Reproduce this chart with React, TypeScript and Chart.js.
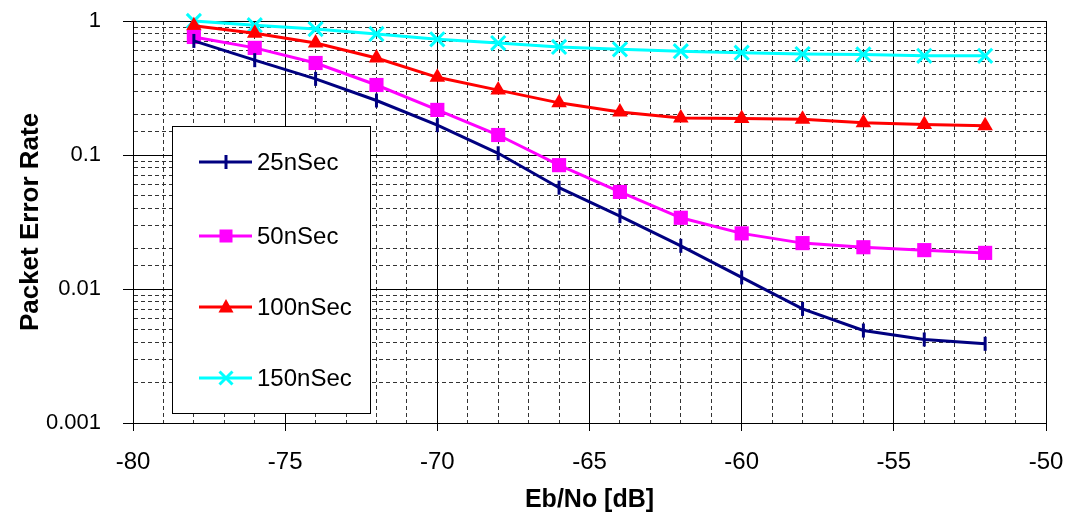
import React, { useEffect, useRef } from "react";
import { Chart, registerables } from "chart.js";

Chart.register(...registerables);

const ebNo = [-78, -76, -74, -72, -70, -68, -66, -64, -62, -60, -58, -56, -54, -52];
const per25 = [0.71, 0.51, 0.37, 0.255, 0.167, 0.103, 0.057, 0.035, 0.021, 0.0122, 0.0071, 0.0049, 0.0042, 0.0039];
const per50 = [0.76, 0.63, 0.486, 0.333, 0.217, 0.141, 0.084, 0.053, 0.034, 0.026, 0.022, 0.0205, 0.0195, 0.0186];
const per100 = [0.92, 0.81, 0.685, 0.53, 0.38, 0.305, 0.245, 0.209, 0.189, 0.187, 0.185, 0.174, 0.169, 0.165];
const per150 = [1.0, 0.93, 0.87, 0.8, 0.73, 0.685, 0.64, 0.615, 0.595, 0.58, 0.567, 0.563, 0.55, 0.55];
const seriesLabels = ["25nSec", "50nSec", "100nSec", "150nSec"];
const yTickLabels = ["0.001", "0.01", "0.1", "1"];
const xTickLabels = ["-80", "-75", "-70", "-65", "-60", "-55", "-50"];

const FONT = 'Arial, "Liberation Sans", sans-serif';

const toPts = (ys: number[]) => ebNo.map((x, i) => ({ x, y: ys[i] }));

const isDecade = (v: number) => {
  const l = Math.log10(v);
  return Math.abs(l - Math.round(l)) < 1e-9;
};

const markerKinds = ["tick", "square", "triangle", "cross"];
const colors = ["#000080", "#FF00FF", "#FF0000", "#00FFFF"];

function drawMarker(ctx: CanvasRenderingContext2D, kind: string, x: number, y: number, color: string) {
  ctx.save();
  ctx.strokeStyle = color;
  ctx.fillStyle = color;
  if (kind === "tick") {
    ctx.lineWidth = 3;
    ctx.beginPath();
    ctx.moveTo(x, y - 7);
    ctx.lineTo(x, y + 7);
    ctx.stroke();
  } else if (kind === "square") {
    ctx.fillRect(x - 6.5, y - 6.5, 13, 13);
  } else if (kind === "triangle") {
    ctx.beginPath();
    ctx.moveTo(x, y - 8);
    ctx.lineTo(x + 7.5, y + 5.5);
    ctx.lineTo(x - 7.5, y + 5.5);
    ctx.closePath();
    ctx.fill();
  } else {
    ctx.lineWidth = 3;
    ctx.beginPath();
    ctx.moveTo(x - 6.5, y - 6.5);
    ctx.lineTo(x + 6.5, y + 6.5);
    ctx.moveTo(x + 6.5, y - 6.5);
    ctx.lineTo(x - 6.5, y + 6.5);
    ctx.stroke();
  }
  ctx.restore();
}

const boxLegend = {
  id: "boxLegend",
  afterDatasetsDraw(chart: any) {
    const ctx: CanvasRenderingContext2D = chart.ctx;
    ctx.save();
    ctx.fillStyle = "#fff";
    ctx.fillRect(172, 126, 198, 287);
    ctx.strokeStyle = "#000";
    ctx.lineWidth = 1;
    ctx.strokeRect(172.5, 126.5, 198, 287);
    const rows = [162, 236, 307, 378];
    chart.data.datasets.forEach((ds: any, i: number) => {
      const y = rows[i];
      ctx.strokeStyle = colors[i];
      ctx.lineWidth = 3;
      ctx.beginPath();
      ctx.moveTo(199, y);
      ctx.lineTo(252, y);
      ctx.stroke();
      drawMarker(ctx, markerKinds[i], 226, y, colors[i]);
      ctx.fillStyle = "#000";
      ctx.font = `24px ${FONT}`;
      ctx.textBaseline = "middle";
      ctx.textAlign = "left";
      ctx.fillText(ds.label, 257, y + 1);
    });
    ctx.restore();
  },
};

const zeroPad = (s: any) => {
  s.paddingTop = 0;
  s.paddingBottom = 0;
  s.paddingLeft = 0;
  s.paddingRight = 0;
};

export default function App() {
  const ref = useRef<HTMLCanvasElement | null>(null);
  useEffect(() => {
    if (!ref.current) return;
    const common = { borderWidth: 3, clip: false as any, tension: 0 };
    const chart = new Chart(ref.current, {
      type: "line",
      data: {
        datasets: [
          {
            ...common,
            label: seriesLabels[0],
            data: toPts(per25),
            borderColor: colors[0],
            backgroundColor: colors[0],
            pointStyle: "line",
            pointRotation: 90,
            pointRadius: 7,
            pointBorderWidth: 3,
            pointBorderColor: colors[0],
          },
          {
            ...common,
            label: seriesLabels[1],
            data: toPts(per50),
            borderColor: colors[1],
            backgroundColor: colors[1],
            pointStyle: "rect",
            pointRadius: 10,
            pointBorderWidth: 0,
            pointBackgroundColor: colors[1],
          },
          {
            ...common,
            label: seriesLabels[2],
            data: toPts(per100),
            borderColor: colors[2],
            backgroundColor: colors[2],
            pointStyle: "triangle",
            pointRadius: 9,
            pointBorderWidth: 0,
            pointBackgroundColor: colors[2],
          },
          {
            ...common,
            label: seriesLabels[3],
            data: toPts(per150),
            borderColor: colors[3],
            backgroundColor: colors[3],
            pointStyle: "crossRot",
            pointRadius: 10,
            pointBorderWidth: 3,
            pointBorderColor: colors[3],
          },
        ],
      },
      options: {
        animation: false,
        responsive: true,
        maintainAspectRatio: false,
        layout: { padding: { left: 0, right: 23, top: 21, bottom: 0 } },
        plugins: { legend: { display: false }, tooltip: { enabled: false } },
        scales: {
          x: {
            type: "linear",
            min: -80,
            max: -50,
            afterFit: (s: any) => {
              s.height = 96;
              zeroPad(s);
            },
            ticks: {
              stepSize: 1,
              autoSkip: false,
              maxRotation: 0,
              padding: 17,
              color: "#000",
              font: { family: FONT, size: 24 },
              callback: (v: any) => {
                const n = Number(v);
                if (n % 5 !== 0) return "";
                const idx = (n + 80) / 5;
                return xTickLabels[idx] ?? "";
              },
            },
            grid: {
              color: (c: any) => (c.tick && c.tick.value % 5 === 0 ? "#000" : "#333"),
              lineWidth: 1,
              tickLength: 8,
              tickColor: (c: any) => (c.tick && c.tick.value % 5 === 0 ? "#000" : "rgba(0,0,0,0)"),
            },
            border: {
              display: true,
              color: "#000",
              width: 1,
              dash: (c: any) => (c.tick && c.tick.value % 5 === 0 ? [] : [4, 3]),
            } as any,
            title: {
              display: true,
              text: "Eb/No [dB]",
              color: "#000",
              font: { family: FONT, size: 25, weight: "bold" },
              padding: { top: 0, bottom: 4 },
            },
          },
          y: {
            type: "logarithmic",
            min: 0.001,
            max: 1,
            afterFit: (s: any) => {
              s.width = 133;
              zeroPad(s);
            },
            ticks: {
              autoSkip: false,
              padding: 22,
              color: "#000",
              font: { family: FONT, size: 22 },
              callback: (v: any) => {
                const n = Number(v);
                if (!isDecade(n)) return "";
                return yTickLabels[Math.round(Math.log10(n)) + 3] ?? "";
              },
            },
            grid: {
              color: (c: any) => (c.tick && isDecade(c.tick.value) ? "#000" : "#333"),
              lineWidth: 1,
              tickLength: 10,
              tickColor: (c: any) => (c.tick && isDecade(c.tick.value) ? "#000" : "rgba(0,0,0,0)"),
            },
            border: {
              display: true,
              color: "#000",
              width: 1,
              dash: (c: any) => (c.tick && isDecade(c.tick.value) ? [] : [4, 3]),
            } as any,
            title: {
              display: true,
              text: "Packet Error Rate",
              color: "#000",
              font: { family: FONT, size: 26, weight: "bold" },
              padding: { top: 15, bottom: 0 },
            },
          },
        },
      },
      plugins: [boxLegend],
    });
    return () => chart.destroy();
  }, []);
  return (
    <div style={{ position: "absolute", left: 0, top: 0, width: 1069, height: 519, background: "#fff" }}>
      <canvas ref={ref} />
    </div>
  );
}
